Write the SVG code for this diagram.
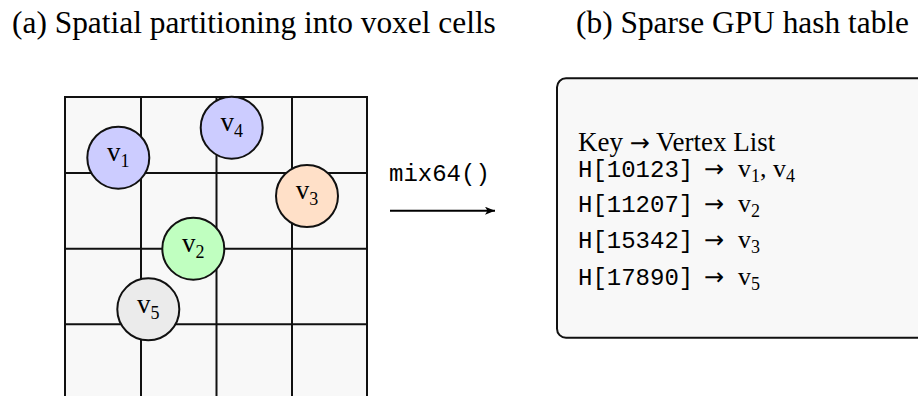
<svg xmlns="http://www.w3.org/2000/svg" width="918" height="396" viewBox="0 0 918 396">
<style>
.title{font-family:"Liberation Serif","DejaVu Serif",serif;font-size:31.4px;fill:#000}
.grid line{stroke:#111;stroke-width:2}
.cell{fill:#f8f8f8;stroke:#111;stroke-width:2}
.vtx{stroke:#111;stroke-width:2}
.lbl{font-family:"Liberation Serif","DejaVu Serif",serif;font-size:27px;fill:#000;text-anchor:middle}
.sub{font-size:18px}
.mono{font-family:"Liberation Mono","DejaVu Sans Mono",monospace;fill:#000}
.ser{font-family:"Liberation Serif","DejaVu Serif",serif;fill:#000}
.arr{font-family:"DejaVu Sans",sans-serif;fill:#000}
.edge{stroke:#000;stroke-width:2;fill:none}
</style>
<defs>
<marker id="arrow" viewBox="0 0 10 8" refX="10" refY="4" markerWidth="10" markerHeight="8" markerUnits="userSpaceOnUse" orient="auto">
<path d="M0,0 L10,4 L0,8 L2.5,4 Z" fill="#000"/>
</marker>
</defs>
<rect width="918" height="396" fill="#fff"/>
<text class="title" x="12" y="33">(a) Spatial partitioning into voxel cells</text>
<text class="title" x="576" y="33">(b) Sparse GPU hash table</text>
<g id="grid" class="grid">
<rect class="cell" x="65" y="97" width="302" height="303"/>
<line x1="141" y1="97" x2="141" y2="400"/>
<line x1="216.5" y1="97" x2="216.5" y2="400"/>
<line x1="292" y1="97" x2="292" y2="400"/>
<line x1="65" y1="173" x2="367" y2="173"/>
<line x1="65" y1="248.7" x2="367" y2="248.7"/>
<line x1="65" y1="324.3" x2="367" y2="324.3"/>
</g>
<g id="v1"><circle class="vtx" cx="118.3" cy="157.7" r="31" fill="#ccccff"/><text class="lbl" x="118.3" y="161">v<tspan class="sub" dy="6">1</tspan></text></g>
<g id="v4"><circle class="vtx" cx="231.7" cy="127.7" r="31" fill="#ccccff"/><text class="lbl" x="231.7" y="131">v<tspan class="sub" dy="6">4</tspan></text></g>
<g id="v3"><circle class="vtx" cx="307" cy="196" r="31" fill="#ffe0c8"/><text class="lbl" x="307" y="199.3">v<tspan class="sub" dy="6">3</tspan></text></g>
<g id="v2"><circle class="vtx" cx="193.3" cy="248.7" r="31" fill="#c0ffc0"/><text class="lbl" x="193.3" y="252">v<tspan class="sub" dy="6">2</tspan></text></g>
<g id="v5"><circle class="vtx" cx="148.3" cy="309.3" r="31" fill="#ebebeb"/><text class="lbl" x="148.3" y="312.6">v<tspan class="sub" dy="6">5</tspan></text></g>
<g id="connectors">
<line class="edge" x1="390" y1="210.7" x2="495" y2="210.7" marker-end="url(#arrow)"/>
<text class="mono" x="389" y="181" font-size="24">mix64()</text>
</g>
<g id="hash-table">
<rect x="557" y="78.3" width="420" height="259.5" rx="9" fill="#f8f8f8" stroke="#111" stroke-width="2"/>
<text x="578" y="150.7" font-size="27"><tspan class="ser">Key </tspan><tspan class="arr" font-size="24">→</tspan><tspan class="ser"> Vertex List</tspan></text>
<text x="578" y="176.7" font-size="24"><tspan class="mono">H[10123]</tspan><tspan class="arr" x="704">→</tspan><tspan class="ser" x="738" font-size="26">v</tspan><tspan class="ser" font-size="18" dy="5">1</tspan><tspan class="ser" font-size="26" dy="-5">, v</tspan><tspan class="ser" font-size="18" dy="5">4</tspan></text>
<text x="578" y="211.7" font-size="24"><tspan class="mono">H[11207]</tspan><tspan class="arr" x="704">→</tspan><tspan class="ser" x="738" font-size="26">v</tspan><tspan class="ser" font-size="18" dy="5">2</tspan></text>
<text x="578" y="248.3" font-size="24"><tspan class="mono">H[15342]</tspan><tspan class="arr" x="704">→</tspan><tspan class="ser" x="738" font-size="26">v</tspan><tspan class="ser" font-size="18" dy="5">3</tspan></text>
<text x="578" y="285" font-size="24"><tspan class="mono">H[17890]</tspan><tspan class="arr" x="704">→</tspan><tspan class="ser" x="738" font-size="26">v</tspan><tspan class="ser" font-size="18" dy="5">5</tspan></text>
</g>
</svg>
